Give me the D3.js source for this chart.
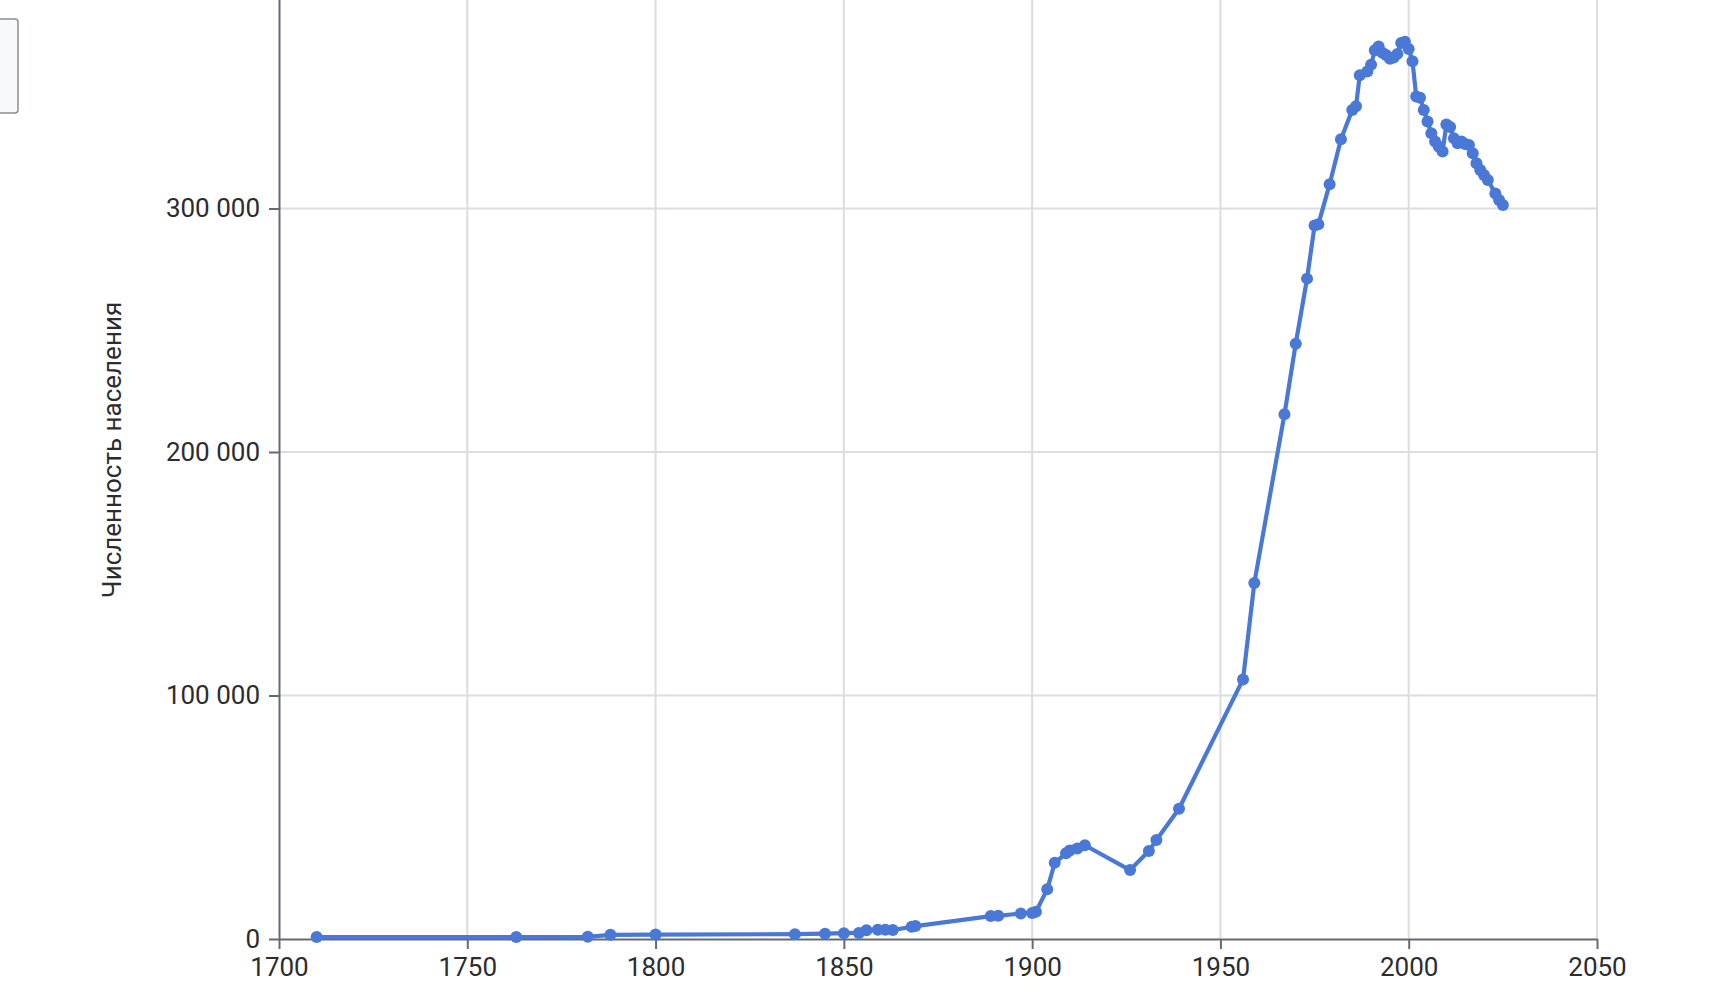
<!DOCTYPE html>
<html>
<head>
<meta charset="utf-8">
<script src="https://cdn.jsdelivr.net/npm/d3@7"></script>
<style>
  html, body { margin: 0; padding: 0; background: #fff; overflow: hidden; }
  svg { display: block; }
  text { font-family: Roboto, "Noto Sans", sans-serif; }
</style>
</head>
<body>
<svg id="chart" width="1710" height="990"></svg>
<script>
const years = [1710,1763,1782,1788,1800,1837,1845,1850,1854,1856,1859,1861,1863,1868,1869,
  1889,1891,1897,1900,1901,1904,1906,1909,1910,1912,1914,1926,1931,1933,1939,
  1956,1959,1967,1970,1973,1975,1976,1979,1982,1985,1986,1987,1989,1990,
  1991,1992,1993,1994,1995,1996,1997,1998,1999,2000,2001,2002,2003,2004,2005,2006,2007,2008,2009,
  2010,2011,2012,2013,2014,2015,2016,2017,2018,2019,2020,2021,2023,2024,2025];
const population = [800,800,900,1700,1800,2000,2200,2400,2500,3600,3800,3800,3700,5000,5300,
  9400,9500,10500,10700,11200,20400,31300,35200,36300,37200,38500,28300,36100,40700,53500,
  106600,146200,215500,244500,271200,293000,293500,310000,328400,340500,342000,354700,356300,359000,
  365000,366500,364000,363000,361500,362000,363500,368000,368500,365500,360500,346000,345500,340500,335700,330900,327500,325400,323400,
  334500,333500,328800,326800,327500,326500,326100,322700,318600,315800,313800,311700,306200,303500,301400];
const xTicks = [1700,1750,1800,1850,1900,1950,2000,2050];
const yTicks = [0,100000,200000,300000];
const yTitle = "Численность населения";

const svg = d3.select("#chart");
const x = d3.scaleLinear().domain([1700, 2050]).range([279, 1597]);
const y = d3.scaleLinear().domain([0, 400000]).range([939, -35]);
const locale = d3.formatLocale({decimal: ",", thousands: " ", grouping: [3], currency: ["", ""]});
const fmt = locale.format(",d");

const grid = svg.append("g");
grid.selectAll("line.v").data(xTicks.slice(1)).join("line")
  .attr("x1", d => x(d)).attr("x2", d => x(d))
  .attr("y1", y(400000)).attr("y2", y(0))
  .attr("stroke", "#dcdde1").attr("stroke-width", 2);
grid.selectAll("line.h").data(yTicks.slice(1)).join("line")
  .attr("x1", x(1700)).attr("x2", x(2050))
  .attr("y1", d => y(d)).attr("y2", d => y(d))
  .attr("stroke", "#dcdde1").attr("stroke-width", 2);

const axisColor = "#666a70";
const xAxis = svg.append("g").attr("transform", `translate(0,${y(0)})`)
  .call(d3.axisBottom(x).tickValues(xTicks).tickFormat(d3.format("d")).tickSize(10).tickSizeOuter(0).tickPadding(9));
const yAxis = svg.append("g").attr("transform", `translate(${x(1700)},0)`)
  .call(d3.axisLeft(y).tickValues(yTicks).tickFormat(fmt).tickSize(10).tickSizeOuter(0).tickPadding(9));
[xAxis, yAxis].forEach(g => {
  g.select(".domain").attr("stroke", axisColor).attr("stroke-width", 2);
  g.selectAll(".tick line").attr("stroke", axisColor).attr("stroke-width", 2);
  g.selectAll(".tick text").attr("fill", "#2b2c2f").style("font-size", "26px");
});

svg.append("text")
  .attr("transform", `translate(112,450) rotate(-90)`)
  .attr("text-anchor", "middle").attr("dominant-baseline", "central")
  .attr("fill", "#2b2c2f").style("font-size", "26px")
  .text(yTitle);

// partial box at top-left
svg.append("rect").attr("x", -10).attr("y", 19).attr("width", 28).attr("height", 94)
  .attr("rx", 3).attr("fill", "#f8f9fa").attr("stroke", "#8a8d91").attr("stroke-width", 1.5);

const data = years.map((yr, i) => ({year: yr, value: population[i]}));
const color = "#4a78d6";
svg.append("path").datum(data)
  .attr("fill", "none").attr("stroke", color).attr("stroke-width", 4.2).attr("stroke-linejoin", "round")
  .attr("d", d3.line().x(d => x(d.year)).y(d => y(d.value)));
svg.append("g").selectAll("circle").data(data).join("circle")
  .attr("cx", d => x(d.year)).attr("cy", d => y(d.value)).attr("r", 6).attr("fill", color);
</script>
</body>
</html>
